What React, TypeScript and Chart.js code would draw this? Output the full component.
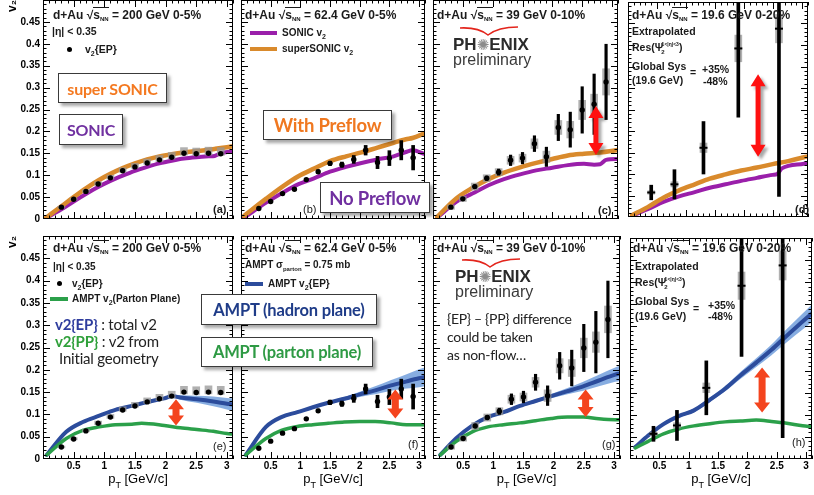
import React, { useEffect, useRef } from 'react';
import { Chart, registerables } from 'chart.js';

Chart.register(...registerables);

const ROOT = '"Liberation Sans", Arial, sans-serif';
const OFFICE = 'Lato, "Open Sans", sans-serif';

// ---------- axes ----------
const xTickVals = [0.5, 1, 1.5, 2, 2.5, 3];
const yTickVals = [0, 0.05, 0.1, 0.15, 0.2, 0.25, 0.3, 0.35, 0.4, 0.45];

// ---------- PHENIX d+Au v2 data ----------
const ptBins = [0.3, 0.5, 0.7, 0.9, 1.1, 1.3, 1.5, 1.7, 1.9, 2.1, 2.3, 2.5, 2.7, 2.9];
const v2At200 = [0.027, 0.045, 0.063, 0.080, 0.094, 0.110, 0.119, 0.128, 0.135, 0.141, 0.150, 0.149, 0.150, 0.149];
const sysUp200 = [0.002, 0.003, 0.004, 0.005, 0.006, 0.007, 0.008, 0.009, 0.010, 0.011, 0.013, 0.013, 0.014, 0.014];
const sysDn200 = [0.002, 0.002, 0.002, 0.003, 0.003, 0.003, 0.003, 0.003, 0.004, 0.004, 0.004, 0.004, 0.004, 0.004];

const v2At62 = [0.024, 0.040, 0.058, 0.068, 0.090, 0.108, 0.127, 0.124, 0.136, 0.157, 0.129, 0.139, 0.157, 0.140];
const stat62 = [0.002, 0.002, 0.003, 0.003, 0.003, 0.004, 0.005, 0.006, 0.009, 0.011, 0.014, 0.017, 0.022, 0.028];

const v2At39 = [0.027, 0.046, 0.074, 0.093, 0.107, 0.134, 0.139, 0.172, 0.142, 0.209, 0.204, 0.249, 0.262, 0.313];
const stat39 = [0.002, 0.003, 0.004, 0.005, 0.007, 0.012, 0.013, 0.018, 0.022, 0.030, 0.040, 0.053, 0.069, 0.086];
const sys39 = [0.005, 0.006, 0.008, 0.008, 0.008, 0.009, 0.009, 0.011, 0.013, 0.016, 0.019, 0.022, 0.023, 0.030];

const ptBins19 = [0.4, 0.8, 1.3, 1.9, 2.6];
const v2At19 = [0.057, 0.076, 0.161, 0.392, 0.438];
const stat19 = [0.017, 0.034, 0.061, 0.160, 0.390];
const sys19 = [0.004, 0.006, 0.011, 0.031, 0.033];

// ---------- SONIC / superSONIC ----------
const ptSonic200 = [0.05, 0.3, 0.5, 0.7, 0.9, 1.1, 1.3, 1.5, 1.7, 1.9, 2.1, 2.3, 2.5, 2.7, 2.8, 2.9, 3.1];
const superSonic200 = [0.003, 0.029, 0.050, 0.070, 0.088, 0.103, 0.116, 0.127, 0.136, 0.143, 0.148, 0.152, 0.155, 0.158, 0.160, 0.162, 0.166];
const sonic200 = [0.002, 0.022, 0.040, 0.057, 0.073, 0.087, 0.099, 0.110, 0.119, 0.127, 0.133, 0.138, 0.141, 0.143, 0.144, 0.150, 0.155];

const ptSonic62 = [0.05, 0.43, 0.7, 0.96, 1.23, 1.5, 1.77, 2.03, 2.3, 2.57, 2.78, 2.89, 3.1];
const superSonic62 = [0.007, 0.047, 0.074, 0.097, 0.115, 0.132, 0.143, 0.152, 0.163, 0.174, 0.182, 0.185, 0.196];
const sonic62 = [0.003, 0.038, 0.060, 0.079, 0.093, 0.108, 0.119, 0.128, 0.136, 0.143, 0.153, 0.157, 0.148];

const ptSuper39 = [0.07, 0.39, 0.66, 0.93, 1.19, 1.46, 1.73, 2.0, 2.26, 2.53, 2.8, 3.07, 3.1];
const superSonic39 = [0.005, 0.047, 0.071, 0.091, 0.106, 0.118, 0.128, 0.137, 0.145, 0.149, 0.152, 0.157, 0.158];
const ptSonic39 = [0.07, 0.39, 0.66, 0.93, 1.19, 1.46, 1.73, 2.0, 2.26, 2.53, 2.7, 2.8, 2.9, 3.07, 3.1];
const sonic39 = [0.003, 0.039, 0.058, 0.077, 0.091, 0.102, 0.111, 0.117, 0.123, 0.126, 0.124, 0.125, 0.135, 0.137, 0.137];

const ptSuper19 = [0.07, 0.34, 0.61, 0.88, 1.15, 1.41, 1.68, 1.95, 2.22, 2.49, 2.76, 3.03, 3.1];
const superSonic19 = [0.004, 0.023, 0.045, 0.062, 0.076, 0.089, 0.099, 0.108, 0.115, 0.123, 0.130, 0.139, 0.141];
const ptSonic19 = [0.07, 0.34, 0.61, 0.88, 1.15, 1.41, 1.68, 1.95, 2.22, 2.49, 2.57, 2.65, 3.03, 3.1];
const sonic19 = [0.003, 0.018, 0.035, 0.048, 0.058, 0.068, 0.076, 0.084, 0.091, 0.098, 0.100, 0.113, 0.124, 0.126];

// ---------- AMPT ----------
const ptAmpt200 = [0.06, 0.38, 0.65, 0.92, 1.18, 1.45, 1.71, 1.98, 2.11, 2.24, 2.51, 2.78, 3.0, 3.1];
const amptEP200 = [0.009, 0.061, 0.083, 0.097, 0.110, 0.119, 0.128, 0.136, 0.141, 0.138, 0.134, 0.129, 0.124, 0.122];
const amptEPw200 = [0.002, 0.003, 0.003, 0.003, 0.003, 0.003, 0.003, 0.003, 0.003, 0.005, 0.008, 0.011, 0.013, 0.014];
const ptAmptPP200 = [0.06, 0.38, 0.65, 0.92, 1.18, 1.45, 1.61, 1.98, 2.24, 2.51, 2.78, 3.0, 3.1];
const amptPP200 = [0.009, 0.046, 0.064, 0.072, 0.077, 0.078, 0.080, 0.075, 0.070, 0.066, 0.062, 0.057, 0.056];

const ptAmpt62 = [0.08, 0.42, 0.68, 0.95, 1.21, 1.47, 1.74, 2.0, 2.26, 2.53, 2.79, 3.0, 3.1];
const amptEP62 = [0.009, 0.072, 0.094, 0.105, 0.116, 0.126, 0.135, 0.145, 0.154, 0.165, 0.174, 0.181, 0.184];
const amptEPw62 = [0.002, 0.003, 0.003, 0.003, 0.003, 0.003, 0.004, 0.006, 0.009, 0.012, 0.016, 0.020, 0.021];
const amptPP62 = [0.009, 0.046, 0.064, 0.073, 0.077, 0.080, 0.083, 0.084, 0.084, 0.081, 0.077, 0.077, 0.077];

const ptAmpt39 = [0.12, 0.38, 0.65, 0.91, 1.17, 1.44, 1.70, 1.96, 2.23, 2.49, 2.75, 3.02, 3.1];
const amptEP39 = [0.009, 0.046, 0.075, 0.094, 0.105, 0.119, 0.130, 0.141, 0.152, 0.163, 0.176, 0.189, 0.192];
const amptEPw39 = [0.002, 0.003, 0.003, 0.003, 0.003, 0.003, 0.004, 0.005, 0.007, 0.010, 0.013, 0.016, 0.017];
const amptPP39 = [0.009, 0.039, 0.061, 0.072, 0.077, 0.081, 0.086, 0.091, 0.094, 0.094, 0.090, 0.088, 0.088];

const ptAmpt19 = [0.09, 0.31, 0.57, 0.83, 1.09, 1.36, 1.62, 1.88, 2.15, 2.41, 2.67, 2.94, 3.1];
const amptEP19 = [0.027, 0.053, 0.079, 0.097, 0.110, 0.134, 0.159, 0.189, 0.218, 0.247, 0.279, 0.311, 0.330];
const amptEPw19 = [0.002, 0.003, 0.003, 0.003, 0.004, 0.005, 0.006, 0.008, 0.010, 0.012, 0.015, 0.018, 0.020];
const amptPP19 = [0.025, 0.040, 0.057, 0.068, 0.075, 0.080, 0.084, 0.086, 0.088, 0.085, 0.081, 0.075, 0.073];

// ---------- red double arrows [pT, from v2, to v2] ----------
const arrowC = [2.73, 0.146, 0.258];
const arrowD = [2.24, 0.140, 0.332];
const arrowE = [2.17, 0.075, 0.134];
const arrowF = [2.6, 0.091, 0.156];
const arrowG = [2.53, 0.094, 0.156];
const arrowH = [2.25, 0.105, 0.207];

// ---------- colours ----------
const ORANGE = '#d98a2c';
const PURPLE = '#9a1faa';
const BLUE = '#2c4c9c';
const BAND = 'rgba(95,145,215,0.75)';
const GREEN = '#2ba04a';
const GRAY = 'rgba(150,150,150,0.75)';

// ---------- dataset helpers ----------
const pts = (xs: number[], ys: number[]) => xs.map((x, i) => ({ x, y: ys[i] }));
const curve = (xs: number[], ys: number[], color: string, width: number, order: number) => ({
  type: 'line', data: pts(xs, ys), borderColor: color, borderWidth: width, pointRadius: 0,
  cubicInterpolationMode: 'monotone', fill: false, order, clip: 0, borderCapStyle: 'round',
});
const band = (xs: number[], c: number[], w: number[], color: string, order: number) => [
  { type: 'line', data: xs.map((x, i) => ({ x, y: c[i] + w[i] })), borderWidth: 0, pointRadius: 0, cubicInterpolationMode: 'monotone', fill: '+1', backgroundColor: color, order, clip: 0 },
  { type: 'line', data: xs.map((x, i) => ({ x, y: c[i] - w[i] })), borderWidth: 0, pointRadius: 0, cubicInterpolationMode: 'monotone', fill: false, order, clip: 0 },
];
const dots = (xs: number[], ys: number[], style = 'circle', r = 2.7) => ({
  type: 'line', data: pts(xs, ys), showLine: false, pointRadius: r, pointStyle: style,
  pointBackgroundColor: '#000', pointBorderColor: '#000', pointBorderWidth: style === 'line' ? 2 : 0, order: 0, clip: 0,
});
const vbars = (xs: number[], c: number[], up: number[], dn: number[], color: string, thick: number, order: number) => ({
  type: 'bar', data: xs.map((x, i) => ({ x, y: [c[i] - dn[i], c[i] + up[i]] })), backgroundColor: color,
  barThickness: thick, grouped: false, order, clip: 0,
});

// ---------- plugin: frame, inward ticks, arrows, x title ----------
const decoPlugin = {
  id: 'panelDeco',
  afterDatasetsDraw(chart: any, _a: any, opts: any) {
    const { ctx, chartArea: a, scales } = chart;
    const xs = scales.x, ys = scales.y;
    ctx.save();
    ctx.beginPath();
    ctx.rect(a.left, a.top, a.right - a.left, a.bottom - a.top);
    ctx.clip();
    for (const ar of opts.arrows || []) {
      const px = xs.getPixelForValue(ar.v[0]);
      const yb = ys.getPixelForValue(ar.v[1]);
      const yt = ys.getPixelForValue(ar.v[2]);
      const { hw, hl, sw } = ar;
      ctx.save();
      if (ar.shadow) {
        ctx.shadowColor = 'rgba(0,0,0,0.35)';
        ctx.shadowOffsetX = 3; ctx.shadowOffsetY = 3; ctx.shadowBlur = 3;
      }
      ctx.fillStyle = ar.color;
      ctx.beginPath();
      ctx.moveTo(px, yt);
      ctx.lineTo(px + hw, yt + hl);
      ctx.lineTo(px + sw, yt + hl);
      ctx.lineTo(px + sw, yb - hl);
      ctx.lineTo(px + hw, yb - hl);
      ctx.lineTo(px, yb);
      ctx.lineTo(px - hw, yb - hl);
      ctx.lineTo(px - sw, yb - hl);
      ctx.lineTo(px - sw, yt + hl);
      ctx.lineTo(px - hw, yt + hl);
      ctx.closePath();
      ctx.fill();
      ctx.restore();
    }
    ctx.restore();

    ctx.save();
    ctx.strokeStyle = '#000';
    ctx.lineWidth = 1;
    ctx.strokeRect(a.left + 0.5, a.top + 0.5, a.right - a.left - 1, a.bottom - a.top - 1);
    ctx.beginPath();
    for (let i = 1; i <= 31; i++) {
      const px = Math.round(xs.getPixelForValue(i / 10)) + 0.5;
      const L = i % 5 === 0 ? 7 : 3.5;
      ctx.moveTo(px, a.bottom); ctx.lineTo(px, a.bottom - L);
      ctx.moveTo(px, a.top); ctx.lineTo(px, a.top + L);
    }
    for (let i = 1; i <= 50; i++) {
      const py = Math.round(ys.getPixelForValue(i / 100)) + 0.5;
      const L = i % 5 === 0 ? 7 : 3.5;
      ctx.moveTo(a.left, py); ctx.lineTo(a.left + L, py);
      ctx.moveTo(a.right, py); ctx.lineTo(a.right - L, py);
    }
    ctx.stroke();
    if (opts.xTitle) {
      const cx = (a.left + a.right) / 2;
      const base = a.bottom + 24;
      ctx.fillStyle = '#000';
      ctx.textBaseline = 'alphabetic';
      ctx.font = `13px ${ROOT}`;
      const w1 = ctx.measureText('p').width;
      ctx.font = `9px ${ROOT}`;
      const w2 = ctx.measureText('T').width;
      ctx.font = `13px ${ROOT}`;
      const rest = ' [GeV/c]';
      const w3 = ctx.measureText(rest).width;
      const x0 = cx - (w1 + w2 + w3) / 2;
      ctx.fillText('p', x0, base);
      ctx.font = `9px ${ROOT}`;
      ctx.fillText('T', x0 + w1, base + 5);
      ctx.font = `13px ${ROOT}`;
      ctx.fillText(rest, x0 + w1 + w2, base);
    }
    ctx.restore();
  },
};

type Spec = {
  left: number; top: number; width: number; height: number;
  yLabels: boolean; xLabels: boolean; datasets: any[]; arrows: any[];
};

function buildConfig(s: Spec): any {
  return {
    type: 'line',
    data: { datasets: s.datasets },
    options: {
      animation: false, responsive: false, devicePixelRatio: 1, events: [],
      layout: { padding: 0 },
      plugins: {
        legend: { display: false }, tooltip: { enabled: false },
        panelDeco: { arrows: s.arrows, xTitle: s.xLabels },
      },
      scales: {
        x: {
          type: 'linear', min: 0, max: 3.1, offset: false, display: s.xLabels,
          grid: { display: false, drawTicks: false }, border: { display: false },
          afterBuildTicks: (sc: any) => { sc.ticks = xTickVals.map((v) => ({ value: v })); },
          ticks: { padding: 1, autoSkip: false, maxRotation: 0, color: '#000', font: { family: ROOT, size: 10, weight: 'bold' }, callback: (v: any) => String(v) },
          afterFit: (sc: any) => { sc.height = s.xLabels ? 36 : 0; sc.paddingLeft = 0; sc.paddingRight = 0; },
        },
        y: {
          type: 'linear', min: 0, max: 0.5, display: s.yLabels,
          grid: { display: false, drawTicks: false }, border: { display: false },
          afterBuildTicks: (sc: any) => { sc.ticks = yTickVals.map((v) => ({ value: v })); },
          ticks: { padding: 3, autoSkip: false, color: '#000', font: { family: ROOT, size: 10, weight: 'bold' }, callback: (v: any) => String(v) },
          title: { display: true, text: 'v₂', align: 'end', color: '#000', font: { family: ROOT, size: 12, weight: 'bold' }, padding: { top: 5, bottom: 0 } },
          afterFit: (sc: any) => { sc.width = s.yLabels ? 43 : 0; sc.paddingTop = 0; sc.paddingBottom = 0; },
        },
      },
    },
    plugins: [decoPlugin],
  };
}

function Panel({ spec }: { spec: Spec }) {
  const ref = useRef<HTMLCanvasElement>(null);
  useEffect(() => {
    const chart = new Chart(ref.current as HTMLCanvasElement, buildConfig(spec));
    return () => chart.destroy();
  }, []);
  return (
    <canvas ref={ref} width={spec.width} height={spec.height}
      style={{ position: 'absolute', left: spec.left, top: spec.top, width: spec.width, height: spec.height }} />
  );
}

const topArrow = (v: number[]) => ({ v, color: '#ff1010', hw: 7.5, hl: 12, sw: 2.5, shadow: true });
const botArrow = (v: number[]) => ({ v, color: '#f4441e', hw: 8, hl: 10, sw: 3.5, shadow: false });

const specs: Spec[] = [
  // (a)
  {
    left: 0, top: -4, width: 237, height: 227, yLabels: true, xLabels: false, arrows: [],
    datasets: [
      dots(ptBins, v2At200),
      vbars(ptBins, v2At200, sysUp200, sysDn200, GRAY, 7, 2),
      curve(ptSonic200, superSonic200, ORANGE, 4.5, 3),
      curve(ptSonic200, sonic200, PURPLE, 4, 4),
    ],
  },
  // (b)
  {
    left: 237, top: -4, width: 192, height: 227, yLabels: false, xLabels: false, arrows: [],
    datasets: [
      dots(ptBins, v2At62),
      vbars(ptBins, v2At62, stat62, stat62, '#000', 3, 1),
      curve(ptSonic62, superSonic62, ORANGE, 4.5, 3),
      curve(ptSonic62, sonic62, PURPLE, 4, 4),
    ],
  },
  // (c)
  {
    left: 429, top: -4, width: 193, height: 227, yLabels: false, xLabels: false, arrows: [topArrow(arrowC)],
    datasets: [
      dots(ptBins, v2At39),
      vbars(ptBins, v2At39, stat39, stat39, '#000', 2.5, 1),
      vbars(ptBins, v2At39, sys39, sys39, GRAY, 7, 2),
      curve(ptSuper39, superSonic39, ORANGE, 4.5, 3),
      curve(ptSonic39, sonic39, PURPLE, 4, 4),
    ],
  },
  // (d)
  {
    left: 622, top: -4, width: 192, height: 227, yLabels: false, xLabels: false, arrows: [topArrow(arrowD)],
    datasets: [
      dots(ptBins19, v2At19, 'line', 4),
      vbars(ptBins19, v2At19, stat19, stat19, '#000', 3, 1),
      vbars(ptBins19, v2At19, sys19, sys19, GRAY, 7, 2),
      curve(ptSuper19, superSonic19, ORANGE, 4.5, 3),
      curve(ptSonic19, sonic19, PURPLE, 4, 4),
    ],
  },
  // (e)
  {
    left: 0, top: 232, width: 237, height: 263, yLabels: true, xLabels: true, arrows: [botArrow(arrowE)],
    datasets: [
      dots(ptBins, v2At200),
      vbars(ptBins, v2At200, sysUp200, sysDn200, GRAY, 7, 2),
      curve(ptAmptPP200, amptPP200, GREEN, 3.5, 3),
      curve(ptAmpt200, amptEP200, BLUE, 4, 4),
      ...band(ptAmpt200, amptEP200, amptEPw200, BAND, 5),
    ],
  },
  // (f)
  {
    left: 237, top: 232, width: 192, height: 263, yLabels: false, xLabels: true, arrows: [botArrow(arrowF)],
    datasets: [
      dots(ptBins, v2At62),
      vbars(ptBins, v2At62, stat62, stat62, '#000', 3, 1),
      curve(ptAmpt62, amptPP62, GREEN, 3.5, 3),
      curve(ptAmpt62, amptEP62, BLUE, 4, 4),
      ...band(ptAmpt62, amptEP62, amptEPw62, BAND, 5),
    ],
  },
  // (g)
  {
    left: 429, top: 232, width: 195, height: 263, yLabels: false, xLabels: true, arrows: [botArrow(arrowG)],
    datasets: [
      dots(ptBins, v2At39),
      vbars(ptBins, v2At39, stat39, stat39, '#000', 2.5, 1),
      vbars(ptBins, v2At39, sys39, sys39, GRAY, 7, 2),
      curve(ptAmpt39, amptPP39, GREEN, 3.5, 3),
      curve(ptAmpt39, amptEP39, BLUE, 4, 4),
      ...band(ptAmpt39, amptEP39, amptEPw39, BAND, 5),
    ],
  },
  // (h)
  {
    left: 624, top: 232, width: 194, height: 263, yLabels: false, xLabels: true, arrows: [botArrow(arrowH)],
    datasets: [
      dots(ptBins19, v2At19, 'line', 4),
      vbars(ptBins19, v2At19, stat19, stat19, '#000', 3, 1),
      vbars(ptBins19, v2At19, sys19, sys19, GRAY, 7, 2),
      curve(ptAmpt19, amptPP19, GREEN, 3.5, 3),
      curve(ptAmpt19, amptEP19, BLUE, 4, 4),
      ...band(ptAmpt19, amptEP19, amptEPw19, BAND, 5),
    ],
  },
];

// ---------- overlay text helpers ----------
const Txt = ({ x, y, s = 10.5, b = true, c = '#1a1a1a', f = ROOT, ls = 0, children }: any) => (
  <div style={{ position: 'absolute', left: x, top: y, fontFamily: f, fontSize: s, fontWeight: b ? 700 : 400, color: c, whiteSpace: 'nowrap', lineHeight: 1.15, letterSpacing: ls }}>{children}</div>
);
const Sb = ({ children, s = 7, dy = 3 }: any) => (
  <span style={{ fontSize: s, position: 'relative', top: dy }}>{children}</span>
);
const Head = ({ x, y, e, c }: any) => (
  <div style={{ position: 'absolute', left: x, top: y, font: `bold 12px ${ROOT}`, color: '#1a1a1a', whiteSpace: 'nowrap', lineHeight: '14px' }}>
    d+Au √<span style={{ borderTop: '1px solid #1a1a1a' }}>s<span style={{ fontSize: 6, position: 'relative', top: 2 }}>NN</span></span> = {e} GeV {c}
  </div>
);
const Box = ({ x, y, w, h, c, s, ls = -0.2, children }: any) => (
  <div style={{ position: 'absolute', left: x, top: y, width: w, height: h, boxSizing: 'border-box', border: '1px solid #3a3a3a', background: '#fff', boxShadow: '3px 3px 3px rgba(0,0,0,0.35)', display: 'flex', alignItems: 'center', justifyContent: 'center', fontFamily: OFFICE, fontWeight: 700, fontSize: s, letterSpacing: ls, color: c, whiteSpace: 'nowrap' }}>{children}</div>
);
const Swatch = ({ x, y, w, h, c }: any) => (
  <div style={{ position: 'absolute', left: x, top: y, width: w, height: h, background: c }} />
);
const Dot = ({ x, y }: any) => (
  <div style={{ position: 'absolute', left: x - 2.5, top: y - 2.5, width: 5, height: 5, borderRadius: '50%', background: '#000' }} />
);
const Phenix = ({ x, y }: any) => (
  <div style={{ position: 'absolute', left: x, top: y, width: 86, height: 34 }}>
    <svg width={64} height={12} style={{ position: 'absolute', left: 5, top: -11 }}>
      <path d="M2,3 Q20,2 30,10 Q40,2 60,2" stroke="#e3251c" strokeWidth={1.6} fill="none" />
    </svg>
    <div style={{ position: 'absolute', left: 0, top: 0, font: `bold 17px ${ROOT}`, color: '#2b2b2b', lineHeight: '17px', whiteSpace: 'nowrap' }}>
      PH<span style={{ color: '#8c8c8c', fontWeight: 400, fontFamily: '"DejaVu Sans"', fontSize: 15 }}>✺</span>ENIX
    </div>
    <div style={{ position: 'absolute', left: 0, top: 15, font: `16px ${ROOT}`, color: '#3a3a3a', lineHeight: '17px', whiteSpace: 'nowrap' }}>preliminary</div>
  </div>
);
const Res = ({ x, y }: any) => (
  <Txt x={x} y={y}>Res(Ψ<span style={{ fontSize: 6, position: 'relative', top: 3, marginLeft: -2 }}>2</span><span style={{ fontSize: 5, position: 'relative', top: -5, marginLeft: -3 }}>1&lt;|η|&lt;3</span>)</Txt>
);

export default function App() {
  return (
    <div style={{ position: 'absolute', left: 0, top: 0, width: 814, height: 495, overflow: 'hidden', background: '#fff' }}>
      {specs.map((s, i) => <Panel key={i} spec={s} />)}

      {/* (a) */}
      <Head x={53} y={8} e="200" c="0-5%" />
      <Txt x={52} y={25}>|η| &lt; 0.35</Txt>
      <Dot x={69} y={49} />
      <Txt x={85} y={43}>v<Sb>2</Sb>{'{EP}'}</Txt>
      <Box x={58} y={73} w={109} h={30} c="#f47920" s={16}>super SONIC</Box>
      <Box x={59} y={114} w={64} h={31} c="#7030a0" s={16} ls={-0.3}>SONIC</Box>
      <Txt x={213} y={203} s={11}>(a)</Txt>

      {/* (b) */}
      <Head x={245} y={8} e="62.4" c="0-5%" />
      <Swatch x={250} y={31} w={27} h={4} c={PURPLE} />
      <Txt x={282} y={27} s={10}>SONIC v<Sb>2</Sb></Txt>
      <Swatch x={250} y={47} w={27} h={4} c={ORANGE} />
      <Txt x={282} y={43} s={10}>superSONIC v<Sb>2</Sb></Txt>
      <Box x={263} y={110} w={129} h={30} c="#f07820" s={18.5}>With Preflow</Box>
      <Txt x={303} y={203} s={11} b={false}>(b)</Txt>
      <Box x={320} y={182} w={110} h={31} c="#7030a0" s={18.5}>No Preflow</Box>

      {/* (c) */}
      <Head x={437} y={8} e="39" c="0-10%" />
      <Phenix x={453} y={36} />
      <Txt x={598} y={204} s={11}>(c)</Txt>

      {/* (d) */}
      <Head x={632} y={8} e="19.6" c="0-20%" />
      <Txt x={632} y={25}>Extrapolated</Txt>
      <Res x={632} y={41} />
      <Txt x={632} y={60}>Global Sys</Txt>
      <Txt x={632} y={74}>(19.6 GeV)</Txt>
      <Txt x={690} y={66}>=</Txt>
      <Txt x={702} y={63}>+35%</Txt>
      <Txt x={703} y={75}>-48%</Txt>
      <Txt x={795} y={203} s={11}>(d)</Txt>

      {/* (e) */}
      <Head x={53} y={241} e="200" c="0-5%" />
      <Txt x={53} y={261} s={10}>|η| &lt; 0.35</Txt>
      <Dot x={59} y={283} />
      <Txt x={72} y={278} s={10}>v<Sb>2</Sb>{'{EP}'}</Txt>
      <Swatch x={50} y={297} w={18} h={4} c={GREEN} />
      <Txt x={72} y={293} s={10}>AMPT v<Sb>2</Sb>(Parton Plane)</Txt>
      <Txt x={55} y={316} s={15} b={false} f={OFFICE} c="#222" ls={-0.2}><span style={{ color: '#2f3d9e', fontWeight: 700 }}>v2{'{EP}'}</span> : total v2</Txt>
      <Txt x={55} y={333} s={15} b={false} f={OFFICE} c="#222" ls={-0.2}><span style={{ color: '#2fa03a', fontWeight: 700 }}>v2{'{PP}'}</span> : v2 from</Txt>
      <Txt x={59} y={350} s={15} b={false} f={OFFICE} c="#222" ls={-0.2}>Initial geometry</Txt>
      <Txt x={213} y={440} s={11} b={false}>(e)</Txt>

      {/* (f) */}
      <Head x={245} y={241} e="62.4" c="0-5%" />
      <Txt x={245} y={259} s={10}>AMPT σ<Sb s={6}>parton</Sb> = 0.75 mb</Txt>
      <Swatch x={245} y={282} w={18} h={4} c={BLUE} />
      <Txt x={268} y={278} s={10}>AMPT v<Sb>2</Sb>{'{EP}'}</Txt>
      <Txt x={408} y={438} s={11} b={false}>(f)</Txt>

      {/* (g) */}
      <Head x={437} y={241} e="39" c="0-10%" />
      <Phenix x={455} y={268} />
      <Txt x={447} y={311} s={14} b={false} f={OFFICE} c="#222" ls={-0.3}>{'{EP} – {PP} difference'}</Txt>
      <Txt x={447} y={329} s={14} b={false} f={OFFICE} c="#222" ls={-0.3}>could be taken</Txt>
      <Txt x={447} y={347} s={14} b={false} f={OFFICE} c="#222" ls={-0.3}>as non-flow…</Txt>
      <Txt x={602} y={438} s={11} b={false}>(g)</Txt>

      {/* (h) */}
      <Head x={633} y={241} e="19.6" c="0-20%" />
      <Txt x={635} y={260}>Extrapolated</Txt>
      <Res x={635} y={276} />
      <Txt x={635} y={295}>Global Sys</Txt>
      <Txt x={635} y={310}>(19.6 GeV)</Txt>
      <Txt x={693} y={302}>=</Txt>
      <Txt x={708} y={299}>+35%</Txt>
      <Txt x={708} y={310}>-48%</Txt>
      <Txt x={792} y={436} s={11} b={false}>(h)</Txt>

      {/* boxes spanning panels (e)/(f) */}
      <Box x={201} y={294} w={176} h={31} c="#1f3c88" s={16.5}>AMPT (hadron plane)</Box>
      <Box x={201} y={337} w={172} h={30} c="#2e9a44" s={16.5}>AMPT (parton plane)</Box>
    </div>
  );
}
